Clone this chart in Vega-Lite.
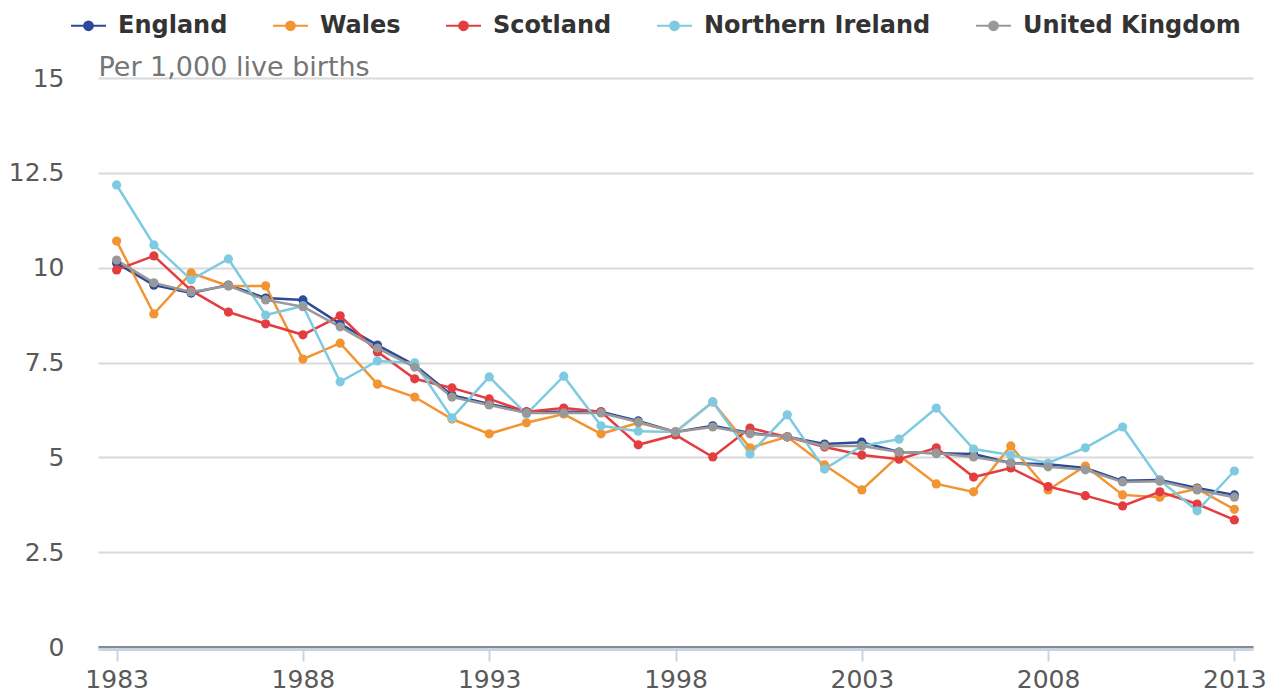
{
  "$schema": "https://vega.github.io/schema/vega-lite/v6.json",
  "width": 1155,
  "height": 569,
  "autosize": "none",
  "padding": {"left": 98, "top": 78, "right": 24, "bottom": 46},
  "config": {"view": {"stroke": null}, "font": "DejaVu Sans"},
  "datasets": {
    "rows": [
      {"year":1983,"country":"England","v":10.12},{"year":1984,"country":"England","v":9.54},{"year":1985,"country":"England","v":9.33},{"year":1986,"country":"England","v":9.54},{"year":1987,"country":"England","v":9.2},{"year":1988,"country":"England","v":9.15},{"year":1989,"country":"England","v":8.52},{"year":1990,"country":"England","v":7.96},{"year":1991,"country":"England","v":7.43},{"year":1992,"country":"England","v":6.64},{"year":1993,"country":"England","v":6.41},{"year":1994,"country":"England","v":6.2},{"year":1995,"country":"England","v":6.2},{"year":1996,"country":"England","v":6.2},{"year":1997,"country":"England","v":5.96},{"year":1998,"country":"England","v":5.67},{"year":1999,"country":"England","v":5.83},{"year":2000,"country":"England","v":5.64},{"year":2001,"country":"England","v":5.54},{"year":2002,"country":"England","v":5.35},{"year":2003,"country":"England","v":5.4},{"year":2004,"country":"England","v":5.14},{"year":2005,"country":"England","v":5.11},{"year":2006,"country":"England","v":5.09},{"year":2007,"country":"England","v":4.85},{"year":2008,"country":"England","v":4.82},{"year":2009,"country":"England","v":4.72},{"year":2010,"country":"England","v":4.38},{"year":2011,"country":"England","v":4.4},{"year":2012,"country":"England","v":4.19},{"year":2013,"country":"England","v":4.01},
      {"year":1983,"country":"Wales","v":10.7},{"year":1984,"country":"Wales","v":8.78},{"year":1985,"country":"Wales","v":9.86},{"year":1986,"country":"Wales","v":9.52},{"year":1987,"country":"Wales","v":9.52},{"year":1988,"country":"Wales","v":7.59},{"year":1989,"country":"Wales","v":8.01},{"year":1990,"country":"Wales","v":6.93},{"year":1991,"country":"Wales","v":6.59},{"year":1992,"country":"Wales","v":6.01},{"year":1993,"country":"Wales","v":5.62},{"year":1994,"country":"Wales","v":5.91},{"year":1995,"country":"Wales","v":6.14},{"year":1996,"country":"Wales","v":5.62},{"year":1997,"country":"Wales","v":5.91},{"year":1998,"country":"Wales","v":5.67},{"year":1999,"country":"Wales","v":6.46},{"year":2000,"country":"Wales","v":5.25},{"year":2001,"country":"Wales","v":5.54},{"year":2002,"country":"Wales","v":4.8},{"year":2003,"country":"Wales","v":4.14},{"year":2004,"country":"Wales","v":5.05},{"year":2005,"country":"Wales","v":4.3},{"year":2006,"country":"Wales","v":4.09},{"year":2007,"country":"Wales","v":5.3},{"year":2008,"country":"Wales","v":4.14},{"year":2009,"country":"Wales","v":4.77},{"year":2010,"country":"Wales","v":4.01},{"year":2011,"country":"Wales","v":3.95},{"year":2012,"country":"Wales","v":4.17},{"year":2013,"country":"Wales","v":3.63},
      {"year":1983,"country":"Scotland","v":9.94},{"year":1984,"country":"Scotland","v":10.31},{"year":1985,"country":"Scotland","v":9.4},{"year":1986,"country":"Scotland","v":8.83},{"year":1987,"country":"Scotland","v":8.52},{"year":1988,"country":"Scotland","v":8.23},{"year":1989,"country":"Scotland","v":8.73},{"year":1990,"country":"Scotland","v":7.78},{"year":1991,"country":"Scotland","v":7.07},{"year":1992,"country":"Scotland","v":6.83},{"year":1993,"country":"Scotland","v":6.54},{"year":1994,"country":"Scotland","v":6.2},{"year":1995,"country":"Scotland","v":6.3},{"year":1996,"country":"Scotland","v":6.2},{"year":1997,"country":"Scotland","v":5.33},{"year":1998,"country":"Scotland","v":5.59},{"year":1999,"country":"Scotland","v":5.01},{"year":2000,"country":"Scotland","v":5.77},{"year":2001,"country":"Scotland","v":5.54},{"year":2002,"country":"Scotland","v":5.27},{"year":2003,"country":"Scotland","v":5.06},{"year":2004,"country":"Scotland","v":4.95},{"year":2005,"country":"Scotland","v":5.25},{"year":2006,"country":"Scotland","v":4.48},{"year":2007,"country":"Scotland","v":4.72},{"year":2008,"country":"Scotland","v":4.23},{"year":2009,"country":"Scotland","v":3.99},{"year":2010,"country":"Scotland","v":3.72},{"year":2011,"country":"Scotland","v":4.09},{"year":2012,"country":"Scotland","v":3.77},{"year":2013,"country":"Scotland","v":3.35},
      {"year":1983,"country":"Northern Ireland","v":12.18},{"year":1984,"country":"Northern Ireland","v":10.6},{"year":1985,"country":"Northern Ireland","v":9.68},{"year":1986,"country":"Northern Ireland","v":10.23},{"year":1987,"country":"Northern Ireland","v":8.75},{"year":1988,"country":"Northern Ireland","v":8.99},{"year":1989,"country":"Northern Ireland","v":6.99},{"year":1990,"country":"Northern Ireland","v":7.54},{"year":1991,"country":"Northern Ireland","v":7.49},{"year":1992,"country":"Northern Ireland","v":6.04},{"year":1993,"country":"Northern Ireland","v":7.12},{"year":1994,"country":"Northern Ireland","v":6.14},{"year":1995,"country":"Northern Ireland","v":7.14},{"year":1996,"country":"Northern Ireland","v":5.83},{"year":1997,"country":"Northern Ireland","v":5.69},{"year":1998,"country":"Northern Ireland","v":5.67},{"year":1999,"country":"Northern Ireland","v":6.46},{"year":2000,"country":"Northern Ireland","v":5.09},{"year":2001,"country":"Northern Ireland","v":6.12},{"year":2002,"country":"Northern Ireland","v":4.69},{"year":2003,"country":"Northern Ireland","v":5.3},{"year":2004,"country":"Northern Ireland","v":5.48},{"year":2005,"country":"Northern Ireland","v":6.3},{"year":2006,"country":"Northern Ireland","v":5.22},{"year":2007,"country":"Northern Ireland","v":5.06},{"year":2008,"country":"Northern Ireland","v":4.85},{"year":2009,"country":"Northern Ireland","v":5.25},{"year":2010,"country":"Northern Ireland","v":5.8},{"year":2011,"country":"Northern Ireland","v":4.4},{"year":2012,"country":"Northern Ireland","v":3.59},{"year":2013,"country":"Northern Ireland","v":4.64},
      {"year":1983,"country":"United Kingdom","v":10.2},{"year":1984,"country":"United Kingdom","v":9.6},{"year":1985,"country":"United Kingdom","v":9.36},{"year":1986,"country":"United Kingdom","v":9.52},{"year":1987,"country":"United Kingdom","v":9.15},{"year":1988,"country":"United Kingdom","v":8.97},{"year":1989,"country":"United Kingdom","v":8.44},{"year":1990,"country":"United Kingdom","v":7.88},{"year":1991,"country":"United Kingdom","v":7.38},{"year":1992,"country":"United Kingdom","v":6.59},{"year":1993,"country":"United Kingdom","v":6.38},{"year":1994,"country":"United Kingdom","v":6.17},{"year":1995,"country":"United Kingdom","v":6.17},{"year":1996,"country":"United Kingdom","v":6.17},{"year":1997,"country":"United Kingdom","v":5.93},{"year":1998,"country":"United Kingdom","v":5.67},{"year":1999,"country":"United Kingdom","v":5.8},{"year":2000,"country":"United Kingdom","v":5.62},{"year":2001,"country":"United Kingdom","v":5.54},{"year":2002,"country":"United Kingdom","v":5.3},{"year":2003,"country":"United Kingdom","v":5.3},{"year":2004,"country":"United Kingdom","v":5.14},{"year":2005,"country":"United Kingdom","v":5.11},{"year":2006,"country":"United Kingdom","v":5.01},{"year":2007,"country":"United Kingdom","v":4.85},{"year":2008,"country":"United Kingdom","v":4.75},{"year":2009,"country":"United Kingdom","v":4.67},{"year":2010,"country":"United Kingdom","v":4.35},{"year":2011,"country":"United Kingdom","v":4.37},{"year":2012,"country":"United Kingdom","v":4.14},{"year":2013,"country":"United Kingdom","v":3.95}
    ]
  },
  "data": {"name": "rows"},
  "encoding": {
    "x": {
      "field": "year", "type": "quantitative",
      "scale": {"domain": [1982.5, 2013.5], "nice": false, "zero": false},
      "axis": {
        "values": [1983, 1988, 1993, 1998, 2003, 2008, 2013],
        "format": "d", "grid": false, "title": null, "offset": 2,
        "domainColor": "#c5d5e5", "domainWidth": 3,
        "tickColor": "#c5d5e5", "tickSize": 12, "tickWidth": 2,
        "labelFontSize": 25, "labelColor": "#595959", "labelPadding": 6
      }
    },
    "y": {
      "field": "v", "type": "quantitative",
      "scale": {"domain": [0, 15], "nice": false},
      "axis": {
        "values": [0, 2.5, 5, 7.5, 10, 12.5, 15],
        "labelExpr": "'' + datum.value",
        "domain": false, "ticks": false,
        "gridColor": {"condition": {"test": "datum.value === 0", "value": "#8a8a8a"}, "value": "#d9d9d9"},
        "gridWidth": {"condition": {"test": "datum.value === 0", "value": 3}, "value": 2},
        "labelPadding": 34, "labelFontSize": 25, "labelColor": "#595959",
        "title": "Per 1,000 live births", "titleAngle": 0, "titleAlign": "left",
        "titleBaseline": "alphabetic", "titleX": 0, "titleY": -3,
        "titleFontSize": 27, "titleFontWeight": "normal", "titleColor": "#757575"
      }
    },
    "color": {
      "field": "country", "type": "nominal",
      "scale": {
        "domain": ["England", "Wales", "Scotland", "Northern Ireland", "United Kingdom"],
        "range": ["#2c4a9a", "#f39433", "#e43d40", "#7ecbe1", "#999999"]
      },
      "legend": {
        "orient": "none", "legendX": -28, "legendY": -71, "direction": "horizontal",
        "title": null, "padding": 0, "labelLimit": 0,
        "labelFontSize": 24, "labelFontWeight": "bold", "labelColor": "#333333",
        "symbolType": "M-1,0H1M0.25,0A0.25,0.25,0,1,1,-0.25,0A0.25,0.25,0,1,1,0.25,0",
        "symbolSize": 1225, "symbolStrokeWidth": 2,
        "labelOffset": 11, "columnPadding": 41,
        "encode": {"symbols": {"update": {
          "fill": {"scale": "color", "field": "value"},
          "stroke": {"scale": "color", "field": "value"},
          "opacity": {"value": 1}
        }}}
      }
    }
  },
  "layer": [
    {"mark": {"type": "line", "strokeWidth": 2.5}},
    {"mark": {"type": "circle", "size": 85, "opacity": 1}}
  ]
}
